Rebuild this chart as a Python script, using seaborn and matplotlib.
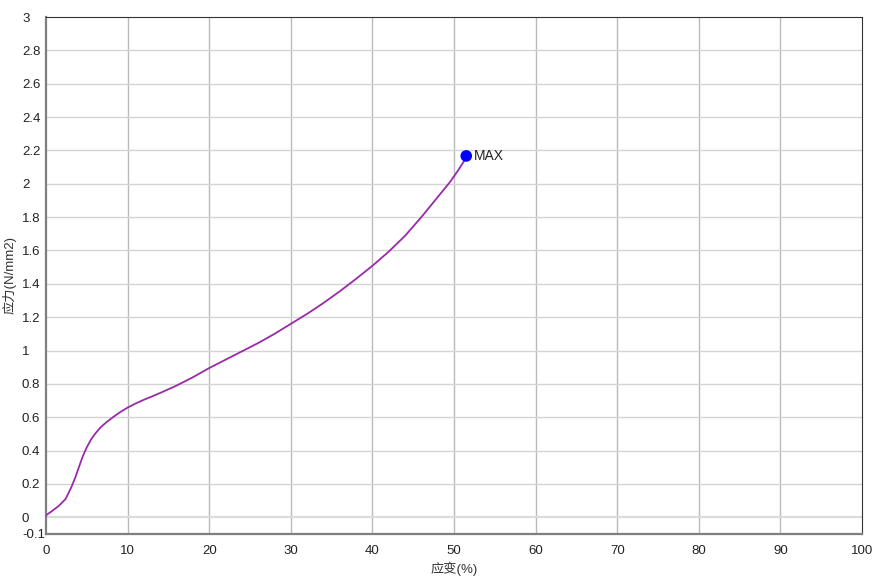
import matplotlib
matplotlib.use("Agg")
import matplotlib.pyplot as plt
import seaborn as sns
import numpy as np
import pandas as pd

# strain (%) and stress (N/mm2)
strain = [0.0, 0.8, 1.6, 2.4, 3.1, 3.6, 4.1, 4.5, 5.0, 5.5, 6.0, 6.7, 7.4, 8.2,
          9.0, 10.0, 11.0, 12.0, 13.0, 14.0, 16.0, 18.0, 20.0, 22.0, 24.0, 26.0,
          28.0, 30.0, 32.0, 34.0, 36.0, 38.0, 40.0, 42.0, 44.0, 46.0, 48.0, 49.5,
          50.5, 51.35]
stress = [0.012, 0.04, 0.07, 0.11, 0.18, 0.24, 0.31, 0.365, 0.42, 0.465, 0.50,
          0.54, 0.57, 0.60, 0.628, 0.658, 0.683, 0.705, 0.725, 0.746, 0.79, 0.84,
          0.895, 0.945, 0.995, 1.045, 1.10, 1.16, 1.22, 1.285, 1.355, 1.43, 1.508,
          1.593, 1.688, 1.80, 1.92, 2.01, 2.08, 2.145]

max_strain = [51.5]
max_stress = [2.167]
max_label = "MAX"

x_ticks = list(range(0, 101, 10))
y_ticks = [-0.1, 0, 0.2, 0.4, 0.6, 0.8, 1, 1.2, 1.4, 1.6, 1.8, 2, 2.2, 2.4, 2.6, 2.8, 3]
y_tick_labels = ["-0.1", "0", "0.2", "0.4", "0.6", "0.8", "1", "1.2", "1.4", "1.6",
                 "1.8", "2", "2.2", "2.4", "2.6", "2.8", "3"]

sns.set_style("white")
plt.rcParams['font.family'] = ['Liberation Sans', 'Noto Sans CJK SC', 'DejaVu Sans']

df = pd.DataFrame({'strain': strain, 'stress': stress})
df_max = pd.DataFrame({'strain': max_strain, 'stress': max_stress})

fig = plt.figure(figsize=(8.78, 5.83), dpi=100)
ax = fig.add_axes([46 / 878, 49 / 583, 816 / 878, 517 / 583])

# grid: vertical darker, horizontal lighter
for xv in x_ticks[1:-1]:
    ax.axvline(xv, color='#bababa', lw=1.0, zorder=0)
for yv in y_ticks[2:-1]:
    ax.axhline(yv, color='#d4d4d4', lw=1.0, zorder=0)
ax.axhline(0, color='#dcdcdc', lw=1.6, zorder=0)

sns.lineplot(data=df, x='strain', y='stress', ax=ax, color='#9a2aa8', lw=1.3,
             sort=False, zorder=3)
sns.scatterplot(data=df_max, x='strain', y='stress', ax=ax, color='#0000ff',
                s=70, edgecolor='none', zorder=4)
ax.annotate(max_label, (max_strain[0], max_stress[0]), xytext=(5.5, 0),
            textcoords='offset points', va='center', ha='left', fontsize=10,
            color='#222222')

ax.set_xlim(0, 100)
ax.set_ylim(-0.1, 3)
ax.set_xticks(x_ticks)
ax.set_yticks(y_ticks)
ax.set_yticklabels(y_tick_labels)
ax.tick_params(axis='both', length=0, labelsize=9.5, colors='#222222')
ax.tick_params(axis='x', pad=8)
ax.tick_params(axis='y', pad=17.3)
for lbl in ax.get_yticklabels():
    lbl.set_horizontalalignment('left')

ax.set_xlabel('应变(%)', fontsize=9.5, color='#333333', labelpad=3)
ax.set_ylabel('应力(N/mm2)', fontsize=9.5, color='#333333', labelpad=4)

for side in ['left', 'bottom']:
    ax.spines[side].set_color('#7f7f7f')
    ax.spines[side].set_linewidth(1.6)
for side in ['top', 'right']:
    ax.spines[side].set_color('#333333')
    ax.spines[side].set_linewidth(0.8)

fig.savefig('out.png', dpi=100)
